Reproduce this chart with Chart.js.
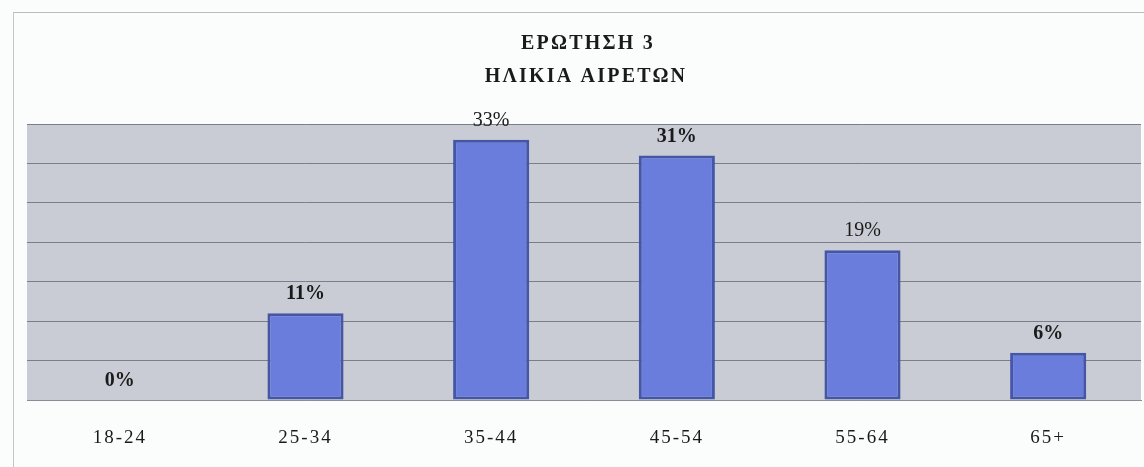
<!DOCTYPE html>
<html>
<head>
<meta charset="utf-8">
<script src="https://cdn.jsdelivr.net/npm/chart.js@4"></script>
<style>
    html, body { margin: 0; padding: 0; background: #fbfcfc; }
    #wrap { position: relative; width: 1144px; height: 467px; }
    #frameTop { position: absolute; left: 13px; right: 0; top: 12px; border-top: 1px solid #b9bcc2; }
    #frameLeft { position: absolute; left: 13px; top: 12px; bottom: 0; border-left: 1px solid #c3c5ca; }
</style>
</head>
<body>
<div id="wrap">
    <div id="frameTop"></div>
    <div id="frameLeft"></div>
    <canvas id="ageChart" width="1144" height="467"></canvas>
</div>
<script>
const titleLines = ['ΕΡΩΤΗΣΗ 3', 'ΗΛΙΚΙΑ ΑΙΡΕΤΩΝ'];
const ageGroups = ['18-24', '25-34', '35-44', '45-54', '55-64', '65+'];
const percentages = [0, 11, 33, 31, 19, 6];
const valueLabels = ['0%', '11%', '33%', '31%', '19%', '6%'];

// gray plot background, plus wider letter spacing for the axis labels
const plotBackground = {
    id: 'plotBackground',
    beforeDraw(chart) {
        const { ctx, chartArea } = chart;
        ctx.save();
        ctx.fillStyle = '#c9ccd4';
        ctx.fillRect(chartArea.left, chartArea.top, chartArea.right - chartArea.left, chartArea.bottom - chartArea.top);
        ctx.restore();
        ctx.letterSpacing = '2px';
    }
};

// title drawn by hand so the letter spacing can be widened
const titleText = {
    id: 'titleText',
    afterDraw(chart) {
        const ctx = chart.ctx;
        ctx.save();
        ctx.fillStyle = '#1a1a1a';
        ctx.font = 'bold 20px "Liberation Serif"';
        ctx.letterSpacing = '2.2px';
        ctx.textAlign = 'center';
        ctx.textBaseline = 'middle';
        ctx.fillText(titleLines[0], 588, 44);
        ctx.fillText(titleLines[1], 586, 77);
        ctx.restore();
    }
};

// value labels above the bars
const barLabels = {
    id: 'barLabels',
    afterDatasetsDraw(chart) {
        const ctx = chart.ctx;
        const meta = chart.getDatasetMeta(0);
        const weights = ['bold', 'bold', 'normal', 'bold', 'normal', 'bold'];
        ctx.save();
        ctx.fillStyle = '#1a1a1a';
        ctx.letterSpacing = '0px';
        ctx.textAlign = 'center';
        ctx.textBaseline = 'alphabetic';
        meta.data.forEach((bar, i) => {
            ctx.font = weights[i] + ' 20px "Liberation Serif"';
            ctx.fillText(valueLabels[i], bar.x, bar.y - 14);
        });
        ctx.restore();
    }
};

new Chart(document.getElementById('ageChart'), {
    type: 'bar',
    data: {
        labels: ageGroups,
        datasets: [{
            data: percentages,
            backgroundColor: '#6a7ddd',
            borderColor: '#4656a6',
            borderWidth: 3,
            borderSkipped: false,
            barPercentage: 0.41,
            categoryPercentage: 1
        }]
    },
    options: {
        responsive: false,
        animation: false,
        layout: {
            padding: { left: 27, right: 3, top: 124, bottom: 0 }
        },
        plugins: {
            legend: { display: false },
            title: { display: false },
            tooltip: { enabled: false }
        },
        scales: {
            x: {
                grid: { display: false },
                border: { color: '#8a8d94', width: 1 },
                afterFit(scale) { scale.height = 67; },
                ticks: {
                    color: '#1a1a1a',
                    padding: 19,
                    font: { family: 'Liberation Serif', size: 19 }
                }
            },
            y: {
                min: 0,
                max: 35,
                ticks: { display: false, stepSize: 5 },
                grid: { color: '#7b7e86', lineWidth: 1, drawTicks: false },
                border: { display: false }
            }
        }
    },
    plugins: [plotBackground, barLabels, titleText]
});
</script>
</body>
</html>
